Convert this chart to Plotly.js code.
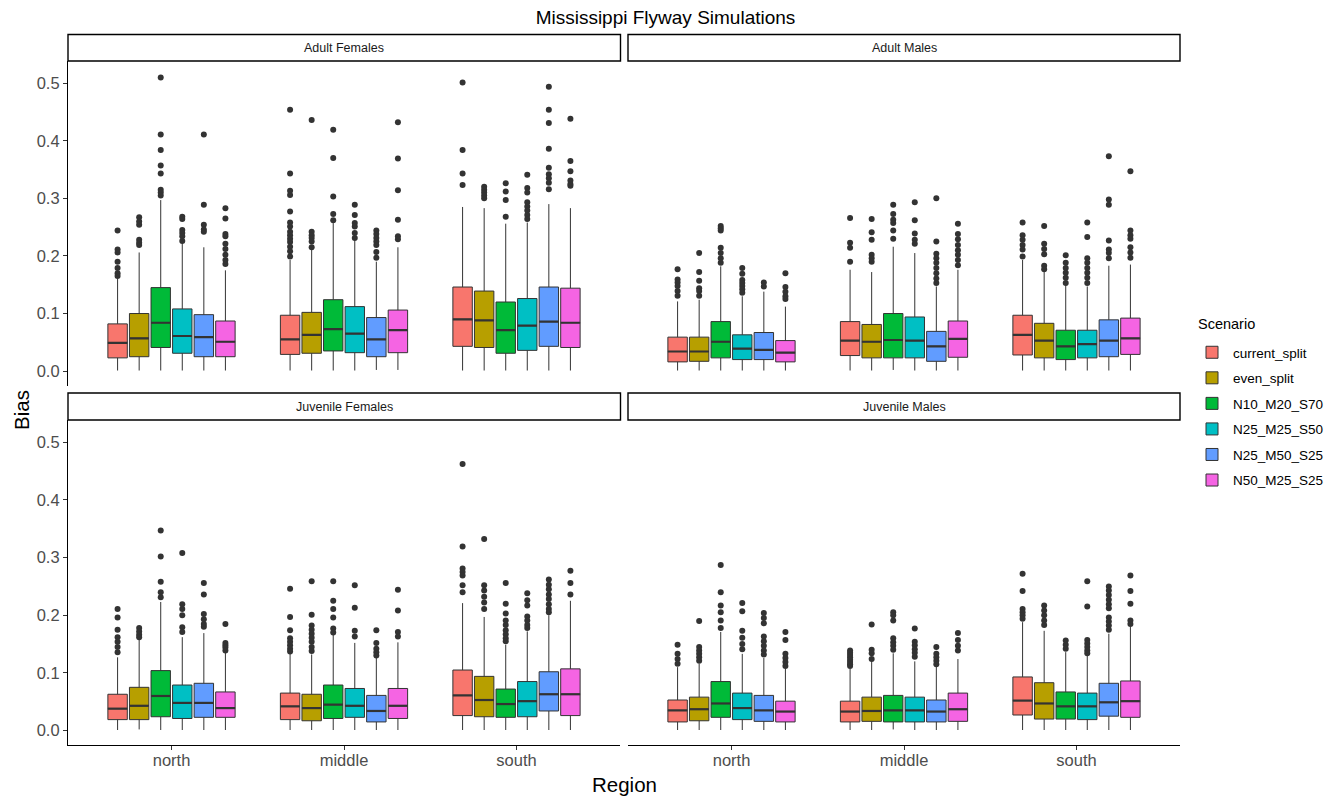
<!DOCTYPE html>
<html><head><meta charset="utf-8">
<script src="https://cdn.plot.ly/plotly-3.0.1.min.js"></script>
<style>html,body{margin:0;padding:0;background:#fff}#chart{width:1331px;height:798px}</style>
</head><body><div id="chart"></div>
<script>
// ---------------- DATA ----------------
const regions = ['north', 'middle', 'south'];
const scenarios = ['current_split', 'even_split', 'N10_M20_S70', 'N25_M25_S50', 'N25_M50_S25', 'N50_M25_S25'];
const scenarioColors = ['#F8766D', '#B79F00', '#00BA38', '#00BFC4', '#619CFF', '#F564E3'];
const facets = ['Adult Females', 'Adult Males', 'Juvenile Females', 'Juvenile Males'];
const yTicks = [0, 0.1, 0.2, 0.3, 0.4, 0.5];
const yTickText = ['0.0', '0.1', '0.2', '0.3', '0.4', '0.5'];

// rows = scenarios, columns = regions (north, middle, south)
// Adult Females
const AF_lo  = [[0.001,0.001,0.001],[0.001,0.001,0.001],[0.001,0.001,0.001],[0.001,0.001,0.001],[0.001,0.002,0.001],[0.001,0.002,0.001]];
const AF_q1  = [[0.023,0.029,0.043],[0.025,0.031,0.041],[0.041,0.035,0.031],[0.031,0.032,0.036],[0.025,0.025,0.043],[0.025,0.032,0.041]];
const AF_med = [[0.049,0.055,0.090],[0.057,0.063,0.088],[0.084,0.073,0.071],[0.061,0.065,0.079],[0.059,0.055,0.086],[0.051,0.071,0.084]];
const AF_q3  = [[0.082,0.097,0.146],[0.100,0.102,0.139],[0.145,0.124,0.120],[0.108,0.112,0.126],[0.098,0.093,0.146],[0.087,0.106,0.144]];
const AF_hi  = [[0.161,0.193,0.285],[0.206,0.211,0.283],[0.297,0.257,0.256],[0.223,0.228,0.258],[0.215,0.190,0.290],[0.175,0.215,0.283]];
const AF_out = [
  [[0.244,0.211,0.206,0.190,0.179,0.170,0.165],[0.454,0.343,0.313,0.306,0.277,0.258,0.251,0.242,0.236,0.230,0.224,0.216,0.208,0.199],[0.501,0.384,0.343,0.323]],
  [[0.267,0.260,0.254,0.228,0.223,0.219],[0.436,0.242,0.236,0.231,0.225,0.215],[0.320,0.315,0.310,0.305,0.300]],
  [[0.510,0.411,0.384,0.357,0.343,0.315,0.310,0.305],[0.419,0.370,0.303,0.273,0.262],[0.326,0.312,0.297,0.268]],
  [[0.268,0.264,0.245,0.240,0.234,0.226],[0.289,0.271,0.257,0.251,0.240,0.231],[0.341,0.318,0.310,0.293,0.286,0.279,0.271,0.264]],
  [[0.411,0.289,0.254,0.246,0.242],[0.244,0.238,0.231,0.225,0.219,0.207,0.197],[0.494,0.454,0.431,0.386,0.353,0.342,0.335,0.327,0.316]],
  [[0.283,0.265,0.238,0.234,0.221,0.212,0.202,0.193,0.186],[0.432,0.369,0.314,0.263,0.234,0.229],[0.438,0.365,0.347,0.331,0.325,0.322]]
];

// Adult Males
const AM_lo  = [[0.001,0.001,0.001],[0.001,0.001,0.001],[0.001,0.002,0.001],[0.001,0.001,0.001],[0.001,0.001,0.001],[0.001,0.001,0.001]];
const AM_q1  = [[0.016,0.027,0.028],[0.017,0.023,0.023],[0.023,0.023,0.020],[0.020,0.023,0.023],[0.020,0.017,0.025],[0.016,0.024,0.029]];
const AM_med = [[0.034,0.053,0.063],[0.034,0.051,0.053],[0.051,0.054,0.043],[0.039,0.053,0.047],[0.037,0.043,0.053],[0.032,0.056,0.057]];
const AM_q3  = [[0.059,0.086,0.097],[0.059,0.081,0.083],[0.086,0.100,0.071],[0.063,0.094,0.071],[0.067,0.069,0.089],[0.053,0.087,0.092]];
const AM_hi  = [[0.121,0.176,0.193],[0.124,0.172,0.172],[0.182,0.216,0.150],[0.130,0.205,0.147],[0.138,0.147,0.183],[0.112,0.176,0.185]];
const AM_out = [
  [[0.177,0.159,0.154,0.148,0.139,0.131],[0.266,0.223,0.214,0.190],[0.258,0.236,0.228,0.219,0.211,0.199]],
  [[0.205,0.172,0.157,0.144,0.139,0.131],[0.264,0.241,0.228,0.202,0.196,0.190],[0.252,0.221,0.212,0.203,0.183,0.177]],
  [[0.252,0.248,0.244,0.214,0.205,0.196,0.188],[0.289,0.273,0.263,0.257,0.244,0.230],[0.201,0.188,0.179,0.171,0.162,0.153]],
  [[0.179,0.169,0.158,0.153,0.148,0.142,0.136],[0.293,0.262,0.239,0.228,0.221],[0.258,0.233,0.196,0.188,0.179,0.171,0.162,0.153]],
  [[0.154,0.147],[0.300,0.225,0.204,0.196,0.188,0.179,0.170,0.161,0.153],[0.373,0.298,0.289,0.227,0.211,0.205,0.196]],
  [[0.170,0.146,0.138,0.130,0.125],[0.256,0.238,0.229,0.219,0.210,0.202,0.193,0.184],[0.347,0.244,0.236,0.230,0.215,0.206,0.197]]
];

// Juvenile Females
const JF_lo  = [[0.001,0.001,0.001],[0.002,0.001,0.001],[0.001,0.001,0.001],[0.001,0.001,0.001],[0.001,0.001,0.001],[0.001,0.001,0.001]];
const JF_q1  = [[0.019,0.019,0.026],[0.019,0.017,0.024],[0.024,0.021,0.023],[0.021,0.023,0.024],[0.023,0.015,0.034],[0.023,0.021,0.026]];
const JF_med = [[0.038,0.042,0.061],[0.043,0.039,0.053],[0.060,0.045,0.046],[0.048,0.043,0.051],[0.048,0.034,0.063],[0.039,0.043,0.063]];
const JF_q3  = [[0.063,0.065,0.105],[0.075,0.063,0.094],[0.104,0.079,0.072],[0.079,0.073,0.085],[0.082,0.061,0.102],[0.067,0.073,0.107]];
const JF_hi  = [[0.127,0.133,0.221],[0.157,0.132,0.197],[0.223,0.167,0.149],[0.162,0.152,0.172],[0.169,0.127,0.200],[0.135,0.153,0.225]];
const JF_out = [
  [[0.211,0.196,0.175,0.162,0.154,0.145,0.136],[0.246,0.197,0.174,0.160,0.154,0.148,0.142,0.137],[0.462,0.319,0.281,0.275,0.269,0.252,0.240]],
  [[0.178,0.172,0.166,0.162],[0.259,0.201,0.182,0.175,0.168,0.161,0.154,0.145,0.138],[0.332,0.252,0.243,0.232,0.222,0.211]],
  [[0.347,0.302,0.258,0.240,0.231],[0.259,0.225,0.211,0.196,0.177,0.170],[0.256,0.220,0.203,0.191,0.183,0.174,0.167,0.160,0.155]],
  [[0.308,0.219,0.211,0.200,0.179,0.171],[0.252,0.213,0.173,0.163],[0.238,0.226,0.217,0.198,0.191,0.183,0.178]],
  [[0.256,0.236,0.202,0.193,0.185,0.180],[0.174,0.152,0.142,0.136,0.130],[0.262,0.253,0.245,0.236,0.228,0.219,0.211,0.205]],
  [[0.185,0.152,0.148,0.144,0.139],[0.244,0.208,0.171,0.163],[0.277,0.256,0.236]]
];

// Juvenile Males
const JM_lo  = [[0.001,0.001,0.001],[0.001,0.001,0.001],[0.001,0.002,0.001],[0.001,0.001,0.001],[0.001,0.001,0.001],[0.001,0.001,0.001]];
const JM_q1  = [[0.015,0.015,0.027],[0.017,0.016,0.020],[0.023,0.015,0.020],[0.019,0.015,0.019],[0.016,0.015,0.025],[0.015,0.016,0.023]];
const JM_med = [[0.035,0.033,0.052],[0.037,0.034,0.047],[0.047,0.035,0.042],[0.039,0.035,0.042],[0.035,0.033,0.049],[0.033,0.037,0.051]];
const JM_q3  = [[0.053,0.051,0.093],[0.058,0.058,0.083],[0.085,0.061,0.067],[0.065,0.058,0.065],[0.061,0.053,0.082],[0.051,0.065,0.086]];
const JM_hi  = [[0.110,0.107,0.188],[0.116,0.123,0.173],[0.171,0.134,0.136],[0.133,0.120,0.130],[0.126,0.113,0.168],[0.107,0.124,0.181]];
const JM_out = [
  [[0.149,0.133,0.124,0.116],[0.139,0.135,0.131,0.127,0.123,0.119,0.115,0.112],[0.272,0.242,0.211,0.205,0.200,0.194]],
  [[0.190,0.145,0.139,0.133,0.127,0.121],[0.184,0.140,0.134,0.124],[0.217,0.208,0.200,0.191,0.183]],
  [[0.287,0.240,0.217,0.205,0.191,0.178],[0.205,0.200,0.191,0.160,0.153,0.147,0.140],[0.156,0.149,0.142]],
  [[0.221,0.207,0.173,0.161,0.150,0.141],[0.177,0.154,0.148,0.141,0.135,0.128],[0.259,0.215,0.157,0.151,0.145,0.139,0.134]],
  [[0.204,0.195,0.186,0.163,0.155,0.147,0.139,0.132],[0.145,0.133,0.127,0.121,0.115],[0.250,0.243,0.235,0.227,0.219,0.212,0.196,0.189,0.182,0.175]],
  [[0.171,0.157,0.133,0.126,0.119,0.112],[0.169,0.157,0.147,0.139],[0.269,0.242,0.220,0.191,0.185]]
];

// ---------------- BUILD ----------------
const facetData = [
  {lo: AF_lo, q1: AF_q1, med: AF_med, q3: AF_q3, hi: AF_hi, out: AF_out},
  {lo: AM_lo, q1: AM_q1, med: AM_med, q3: AM_q3, hi: AM_hi, out: AM_out},
  {lo: JF_lo, q1: JF_q1, med: JF_med, q3: JF_q3, hi: JF_hi, out: JF_out},
  {lo: JM_lo, q1: JM_q1, med: JM_med, q3: JM_q3, hi: JM_hi, out: JM_out}
];

const FONT = 'Liberation Sans, Arial, Helvetica, sans-serif';
const W = 1331, H = 798;
const M = {l: 68, r: 151, t: 36, b: 53, autoexpand: false};
const PW = W - M.l - M.r, PH = H - M.t - M.b;
const px = x => (x - M.l) / PW;
const py = y => (H - M.b - y) / PH;

const dodgeTotal = 0.75;
const slot = dodgeTotal / scenarios.length;
const boxW = slot * 0.9;
const offset = j => (j - (scenarios.length - 1) / 2) * slot;

const traces = [];
facets.forEach((fname, f) => {
  const xa = f === 0 ? 'x' : 'x' + (f + 1);
  const ya = f === 0 ? 'y' : 'y' + (f + 1);
  const d = facetData[f];
  scenarios.forEach((s, j) => {
    const xs = regions.map((r, i) => i + 1 + offset(j));
    traces.push({
      type: 'box', name: s, legendgroup: s, showlegend: f === 0,
      xaxis: xa, yaxis: ya,
      x: xs, q1: d.q1[j], median: d.med[j], q3: d.q3[j],
      lowerfence: d.lo[j], upperfence: d.hi[j],
      width: boxW, whiskerwidth: 0, boxpoints: false,
      fillcolor: scenarioColors[j],
      line: {color: '#333333', width: 1},
      hoverinfo: 'skip'
    });
    // thicker median line (ggplot fatten)
    const mx = [], my = [];
    xs.forEach((c, i) => { mx.push(c - boxW / 2, c + boxW / 2, null); my.push(d.med[j][i], d.med[j][i], null); });
    traces.push({
      type: 'scatter', mode: 'lines', x: mx, y: my, xaxis: xa, yaxis: ya,
      line: {color: '#333333', width: 2.2}, showlegend: false, hoverinfo: 'skip', legendgroup: s
    });
    // outliers
    const ox = [], oy = [];
    xs.forEach((c, i) => d.out[j][i].forEach(v => { ox.push(c); oy.push(v); }));
    traces.push({
      type: 'scatter', mode: 'markers', x: ox, y: oy, xaxis: xa, yaxis: ya,
      marker: {color: '#333333', size: 6}, showlegend: false, hoverinfo: 'skip', legendgroup: s
    });
  });
});

const xRange = [0.4, 3.6];
const yRange = [-0.025, 0.5385];
const panels = {
  left: [px(68), px(620)], right: [px(628), px(1180)],
  top: [py(385.5), py(61)], bottom: [0, py(420)]
};
const tickFont = {family: FONT, size: 16.5, color: '#4D4D4D'};

function xAxis(dom, anchor, showLab) {
  return {
    domain: dom, anchor: anchor, range: xRange, fixedrange: true,
    tickmode: 'array', tickvals: [1, 2, 3], ticktext: regions,
    showticklabels: showLab, ticks: showLab ? 'outside' : '', ticklen: 4, tickwidth: 1, tickcolor: '#333333',
    ticklabelstandoff: -4,
    showline: showLab, linecolor: '#000000', linewidth: 1.1,
    showgrid: false, zeroline: false, tickfont: tickFont
  };
}
function yAxis(dom, anchor, showLab) {
  return {
    domain: dom, anchor: anchor, range: yRange, fixedrange: true,
    tickmode: 'array', tickvals: yTicks, ticktext: yTickText,
    showticklabels: showLab, ticks: showLab ? 'outside' : '', ticklen: 4, tickwidth: 1, tickcolor: '#333333',
    showline: showLab, linecolor: '#000000', linewidth: 1.1,
    showgrid: false, zeroline: false, tickfont: tickFont
  };
}

const strips = [
  {name: facets[0], x: [68, 620.5], y: [34.5, 61]},
  {name: facets[1], x: [628, 1180], y: [34.5, 61]},
  {name: facets[2], x: [68, 620.5], y: [393, 420]},
  {name: facets[3], x: [628, 1180], y: [393, 420]}
];
const shapes = strips.map(s => ({
  type: 'rect', xref: 'paper', yref: 'paper',
  x0: px(s.x[0]), x1: px(s.x[1]), y0: py(s.y[1]), y1: py(s.y[0]),
  line: {color: '#000000', width: 1.4}, fillcolor: '#FFFFFF', layer: 'above'
}));
const annotations = strips.map(s => ({
  xref: 'paper', yref: 'paper', x: px((s.x[0] + s.x[1]) / 2), y: py((s.y[0] + s.y[1]) / 2),
  text: s.name, showarrow: false, xanchor: 'center', yanchor: 'middle',
  font: {family: FONT, size: 12.5, color: '#1A1A1A'}
}));
annotations.push({
  xref: 'paper', yref: 'paper', x: px(624), y: py(785), text: 'Region', showarrow: false,
  xanchor: 'center', yanchor: 'middle', font: {family: FONT, size: 20.5, color: '#000000'}
});
annotations.push({
  xref: 'paper', yref: 'paper', x: px(21), y: py(410), text: 'Bias', showarrow: false, textangle: -90,
  xanchor: 'center', yanchor: 'middle', font: {family: FONT, size: 20.5, color: '#000000'}
});
annotations.push({
  xref: 'paper', yref: 'paper', x: px(1196), y: py(324), text: 'Scenario', showarrow: false,
  xanchor: 'left', yanchor: 'middle', font: {family: FONT, size: 14.5, color: '#000000'}
});

const layout = {
  width: W, height: H, margin: M,
  paper_bgcolor: '#FFFFFF', plot_bgcolor: 'rgba(0,0,0,0)',
  font: {family: FONT},
  title: {text: 'Mississippi Flyway Simulations', x: px(624), xanchor: 'center', y: 1 - 17 / H, yanchor: 'middle',
          font: {family: FONT, size: 19, color: '#000000'}},
  boxmode: 'overlay',
  xaxis: xAxis(panels.left, 'y', false),
  yaxis: yAxis(panels.top, 'x', true),
  xaxis2: xAxis(panels.right, 'y2', false),
  yaxis2: yAxis(panels.top, 'x2', false),
  xaxis3: xAxis(panels.left, 'y3', true),
  yaxis3: yAxis(panels.bottom, 'x3', true),
  xaxis4: xAxis(panels.right, 'y4', true),
  yaxis4: yAxis(panels.bottom, 'x4', false),
  shapes: shapes,
  annotations: annotations,
  showlegend: true,
  legend: {
    x: px(1191), y: py(337), xanchor: 'left', yanchor: 'top',
    font: {family: FONT, size: 13.5, color: '#000000'},
    traceorder: 'grouped', tracegroupgap: 5, bgcolor: 'rgba(0,0,0,0)', itemwidth: 32
  }
};

Plotly.newPlot('chart', traces, layout, {displayModeBar: false, staticPlot: true});
</script>
</body></html>
